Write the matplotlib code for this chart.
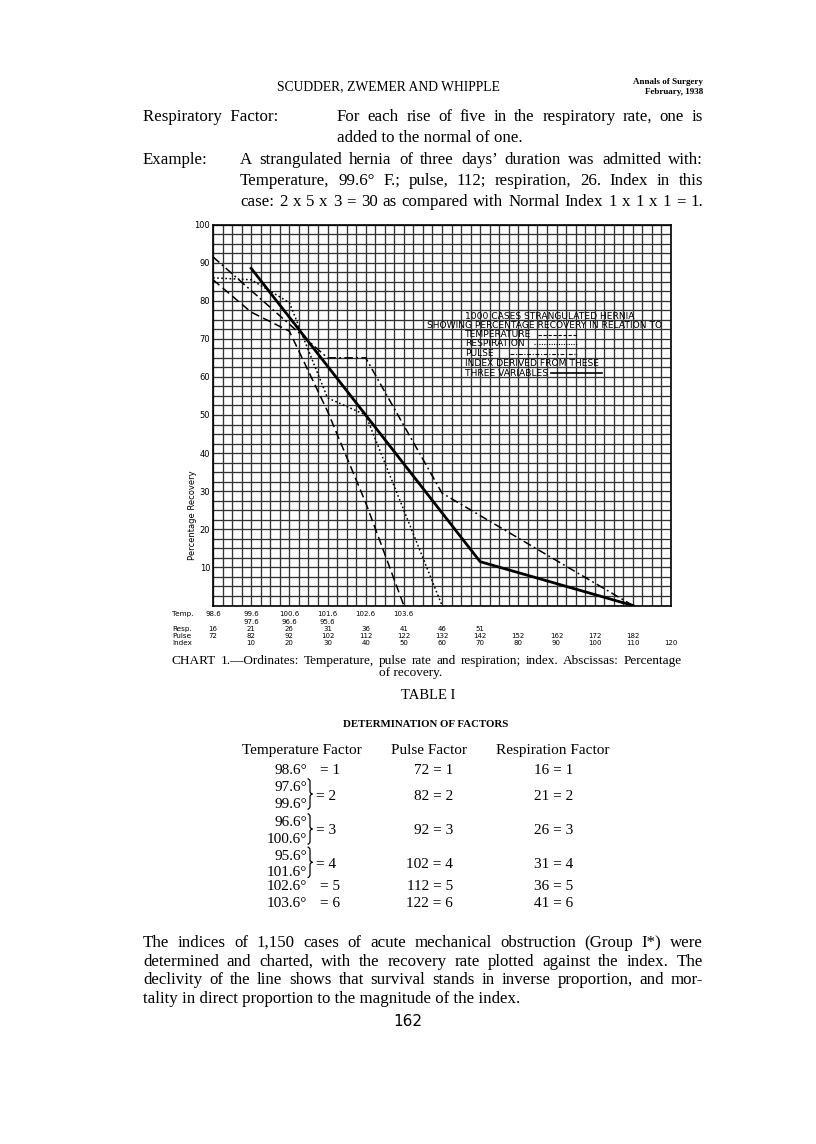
import numpy as np
import matplotlib.pyplot as plt
from matplotlib.path import Path
from matplotlib.patches import PathPatch
from matplotlib.transforms import blended_transform_factory

plt.rcParams['font.family'] = 'DejaVu Sans'
SERIF = 'Liberation Serif'

# curves: x = index, y = percentage recovery
temp_x = [0, 10, 20, 30, 40, 50]
temp_y = [85.5, 77, 72, 51, 27, 0]
resp_x = [0, 10, 20, 30, 40, 60]
resp_y = [86, 85.5, 79.5, 54.5, 50, 0]
pulse_x = [0, 30, 40, 60, 110]
pulse_y = [91.5, 65, 65, 29.5, 0]
index_x = [10, 70, 110]
index_y = [88.5, 11.5, 0]

# scales printed under the chart
temp_pos = [0, 10, 20, 30, 40, 50]
temp_lab = ['98.6', '99.6', '100.6', '101.6', '102.6', '103.6']
temp2_pos = [10, 20, 30]
temp2_lab = ['97.6', '96.6', '95.6']
resp_pos = [0, 10, 20, 30, 40, 50, 60, 70]
resp_lab = [16, 21, 26, 31, 36, 41, 46, 51]
pulse_pos = [0, 10, 20, 30, 40, 50, 60, 70, 80, 90, 100, 110]
pulse_lab = [72, 82, 92, 102, 112, 122, 132, 142, 152, 162, 172, 182]
index_pos = [10, 20, 30, 40, 50, 60, 70, 80, 90, 100, 110, 120]
index_lab = [10, 20, 30, 40, 50, 60, 70, 80, 90, 100, 110, 120]

# Table I
temp_factor = [['98.6°'], ['97.6°', '99.6°'], ['96.6°', '100.6°'],
               ['95.6°', '101.6°'], ['102.6°'], ['103.6°']]
pulse_factor = [72, 82, 92, 102, 112, 122]
resp_factor = [16, 21, 26, 31, 36, 41]
factor = [1, 2, 3, 4, 5, 6]

W, H = 816, 1144
BODY = 12.2
fig = plt.figure(figsize=(W/100, H/100), dpi=100)
fig.patch.set_facecolor('white')
R = fig.canvas.get_renderer()


def px(x, y):
    return x/W, 1 - y/H


def put(x, y, s, size=BODY, ha='left', va='baseline', **kw):
    kw.setdefault('family', SERIF)
    return fig.text(*px(x, y), s, fontsize=size, ha=ha, va=va, **kw)


def justify(x0, x1, y, line, size=BODY, **kw):
    words = line.split()
    tt = [put(0, y, w, size, **kw) for w in words]
    ws = [t.get_window_extent(R).width for t in tt]
    gap = (x1 - x0 - sum(ws))/(len(words) - 1)
    x = x0
    for t, w in zip(tt, ws):
        t.set_x(x/W)
        x += w + gap


def brace(x, y0, y1, w=5):
    # right-hand curly brace, page pixels
    ym, d = (y0 + y1)/2, 3
    v = [(x, y0), (x + w/2, y0), (x + w/2, y0 + d), (x + w/2, ym - d),
         (x + w/2, ym), (x + w, ym), (x + w/2, ym), (x + w/2, ym + d),
         (x + w/2, y1 - d), (x + w/2, y1), (x, y1)]
    c = [Path.MOVETO, Path.CURVE3, Path.CURVE3, Path.LINETO, Path.CURVE3,
         Path.CURVE3, Path.CURVE3, Path.CURVE3, Path.LINETO, Path.CURVE3, Path.CURVE3]
    fig.add_artist(PathPatch(Path([px(*p) for p in v], c), transform=fig.transFigure,
                             fill=False, lw=0.9, color='k'))


# ---- page header and text above the chart
put(388, 90, 'SCUDDER, ZWEMER AND WHIPPLE', 9.8, ha='center')
put(703, 83.5, 'Annals of Surgery', 6.5, ha='right', weight='bold')
put(703, 94.5, 'February, 1938', 6.5, ha='right', weight='bold')

put(143, 121, 'Respiratory  Factor:')
justify(337, 703, 121, 'For each rise of five in the respiratory rate, one is')
put(337, 142, 'added to the normal of one.')
put(143, 164, 'Example:')
justify(240, 703, 164, 'A strangulated hernia of three days\u2019 duration was admitted with:')
justify(240, 703, 185, 'Temperature, 99.6° F.; pulse, 112; respiration, 26.  Index in this')
justify(240, 703, 206, 'case: 2 x 5 x 3 = 30 as compared with Normal Index 1 x 1 x 1 = 1.')

# ---- chart
ax = fig.add_axes([213/W, 1 - 605.5/H, 458/W, 381/H])
ax.set_xlim(0, 120)
ax.set_ylim(0, 100)
ax.set_xticks(np.arange(0, 121, 10))
ax.set_xticks(np.arange(0, 120.1, 2.5), minor=True)
ax.set_yticks(np.arange(10, 101, 10))
ax.set_yticks(np.arange(0, 100.1, 2.5), minor=True)
ax.grid(True, which='both', color='#333333', lw=0.95)
ax.tick_params(which='both', length=0, labelbottom=False, pad=2, labelsize=6)
for s in ax.spines.values():
    s.set_linewidth(1.2)

ax.plot(temp_x, temp_y, color='k', lw=1.1, dashes=(5.5, 2.8))
ax.plot(resp_x, resp_y, color='k', lw=1.1, dashes=(1.1, 1.6))
ax.plot(pulse_x, pulse_y, color='k', lw=1.1, dashes=(5.5, 2.2, 1.2, 2.2))
ax.plot(index_x, index_y, color='k', lw=2.0)

ax.text(-5.3, 23.6, 'Percentage Recovery', rotation=90, ha='center', va='center', fontsize=6)

# legend block written inside the grid
lg = dict(fontsize=6.6, color='k', va='center')
ax.text(66.0, 75.8, '1000 CASES STRANGULATED HERNIA', **lg)
ax.text(56.0, 73.5, 'SHOWING PERCENTAGE RECOVERY IN RELATION TO', **lg)
ax.text(66.0, 71.0, 'TEMPERATURE', **lg)
ax.text(66.0, 68.7, 'RESPIRATION', **lg)
ax.text(66.0, 66.1, 'PULSE', **lg)
ax.text(66.0, 63.4, 'INDEX DERIVED FROM THESE', **lg)
ax.text(66.0, 60.9, 'THREE VARIABLES', **lg)
ax.plot([85.2, 95.3], [71.0, 71.0], color='k', lw=0.8, dashes=(3, 1.5))
ax.plot([84.2, 95.3], [68.7, 68.7], color='k', lw=0.8, dashes=(1, 1.2))
ax.plot([77.8, 95.3], [66.1, 66.1], color='k', lw=0.8, dashes=(3.5, 1.5, 1, 1.5))
ax.plot([88.5, 101.9], [60.9, 60.9], color='k', lw=1.2)

# scales under the chart
tr = blended_transform_factory(ax.transData, ax.transAxes)
sc = dict(fontsize=5.0, ha='center', va='center', transform=tr)
rows = [(-0.022, 'Temp.', temp_pos, temp_lab),
        (-0.044, None, temp2_pos, temp2_lab),
        (-0.0605, 'Resp.', resp_pos, resp_lab),
        (-0.079, 'Pulse', pulse_pos, pulse_lab),
        (-0.0975, 'Index', index_pos, index_lab)]
for yy, name, pos, lab in rows:
    if name:
        ax.text(-10.8, yy, name, fontsize=5.2, ha='left', va='center', transform=tr)
    for p, l in zip(pos, lab):
        ax.text(p, yy, str(l), **sc)

# ---- caption
justify(172, 682, 664, 'CHART 1.\u2014Ordinates:  Temperature,  pulse  rate  and  respiration;  index.  Abscissas:  Percentage', 9.5)
put(411, 676, 'of recovery.', 9.5, ha='center')

# ---- Table I
put(428, 699, 'TABLE I', 10.5, ha='center')
put(426, 727, 'DETERMINATION OF FACTORS', 7.8, ha='center', weight='bold')
put(302, 754, 'Temperature Factor', 11, ha='center')
put(429, 754, 'Pulse Factor', 11, ha='center')
put(553, 754, 'Respiration Factor', 11, ha='center')

row_y = [770, 795, 830, 863.3, 885.7, 902.3]
pair_dy = 8.2
for temps, p, r, f, y in zip(temp_factor, pulse_factor, resp_factor, factor, row_y):
    if len(temps) == 1:
        put(307, y + 4.5, temps[0], 11, ha='right')
        put(320, y + 4.5, '= %d' % f, 11)
    else:
        put(307, y - pair_dy + 4.5, temps[0], 11, ha='right')
        put(307, y + pair_dy + 4.5, temps[1], 11, ha='right')
        brace(307.5, y - pair_dy - 8, y + pair_dy + 6)
        put(316, y + 4.5, '= %d' % f, 11)
    put(453, y + 4.5, '%d = %d' % (p, f), 11, ha='right')
    put(573, y + 4.5, '%d = %d' % (r, f), 11, ha='right')

# ---- paragraph below
justify(143, 703, 947, 'The indices of 1,150 cases of acute mechanical obstruction (Group I*) were')
justify(143, 703, 966, 'determined and charted, with the recovery rate plotted against the index. The')
justify(143, 703, 984, 'declivity of the line shows that survival stands in inverse proportion, and mor-')
put(143, 1003, 'tality in direct proportion to the magnitude of the index.')
put(408, 1026, '162', 11, ha='center', family='DejaVu Sans')

fig.savefig('out.png', dpi=100, facecolor='white')
